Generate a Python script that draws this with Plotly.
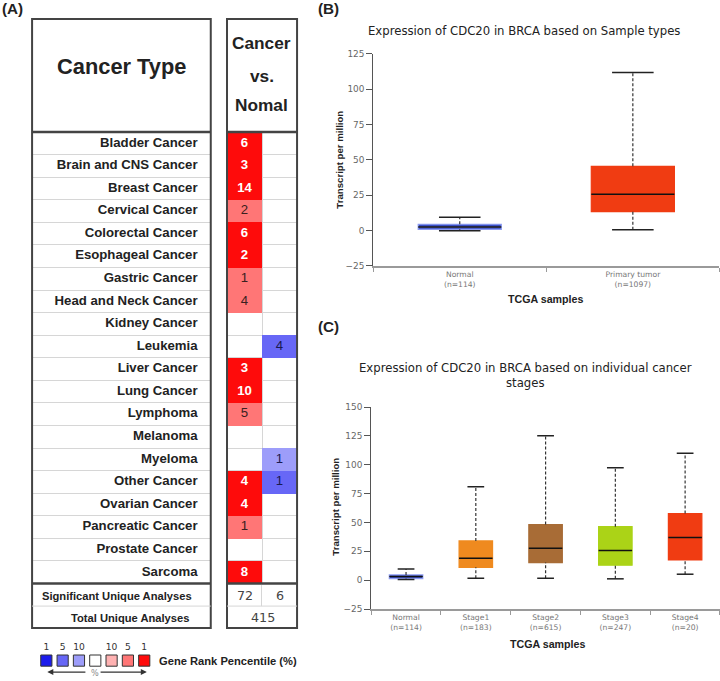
import plotly.graph_objects as go

W, H = 720, 681

# ---------------- Panel A data ----------------
cancer_types = ["Bladder Cancer", "Brain and CNS Cancer", "Breast Cancer", "Cervical Cancer",
                "Colorectal Cancer", "Esophageal Cancer", "Gastric Cancer", "Head and Neck Cancer",
                "Kidney Cancer", "Leukemia", "Liver Cancer", "Lung Cancer", "Lymphoma", "Melanoma",
                "Myeloma", "Other Cancer", "Ovarian Cancer", "Pancreatic Cancer", "Prostate Cancer",
                "Sarcoma"]
up_counts = [6, 3, 14, 2, 6, 2, 1, 4, None, None, 3, 10, 5, None, None, 4, 4, 1, None, 8]
up_rank = [1, 1, 1, 5, 1, 1, 5, 5, None, None, 1, 1, 5, None, None, 1, 1, 5, None, 1]
down_counts = [None, None, None, None, None, None, None, None, None, 4, None, None, None, None,
               1, 1, None, None, None, None]
down_rank = [None, None, None, None, None, None, None, None, None, 5, None, None, None, None,
             10, 5, None, None, None, None]
sig_up, sig_down, total_analyses = 72, 6, 415
legend_ranks = ["1", "5", "10", "", "10", "5", "1"]
palette = ["#1c1cec", "#6767f6", "#9d9dfa", "#ffffff", "#ffb2b2", "#ff7676", "#fe0b0b"]

# ---------------- Panel B data ----------------
b_groups = ["Normal", "Primary tumor"]
b_n = [114, 1097]
b_lower = [0.0, 0.7]
b_q1 = [0.9, 13.4]
b_med = [2.5, 25.7]
b_q3 = [4.5, 45.5]
b_upper = [9.5, 111.8]
b_colors = ["#3a4fc4", "#f03c12"]
b_lines = ["#8c9cf2", "#f03c12"]

# ---------------- Panel C data ----------------
c_groups = ["Normal", "Stage1", "Stage2", "Stage3", "Stage4"]
c_n = [114, 183, 615, 247, 20]
c_lower = [0.6, 1.7, 1.7, 1.2, 5.2]
c_q1 = [1.4, 11.2, 15.3, 13.0, 17.6]
c_med = [3.2, 19.0, 27.7, 25.7, 36.9]
c_q3 = [4.6, 34.0, 48.2, 46.4, 57.7]
c_upper = [9.8, 81.0, 125.2, 97.5, 110.0]
c_colors = ["#3a4fc4", "#ef8a1f", "#a86c36", "#abd317", "#f03c12"]
c_lines = ["#8c9cf2", "#ef8a1f", "#a86c36", "#abd317", "#f03c12"]

K = 1.0 / 0.985  # slight spread of the layout about the page centre


def px(xp):
    v = (W / 2 + (xp - W / 2) * K) / W
    return min(max(v, 0.0), 1.0)


def py(yp):
    v = 1 - (H / 2 + (yp - H / 2) * K) / H
    return min(max(v, 0.0), 1.0)


def fs(s):
    return round(s * K, 2)


AF = "Liberation Sans"
BF = "DejaVu Sans"

fig = go.Figure()

# ---------- heatmap ----------
level = {1: 3, 5: 2, 10: 1}
z = []
for u, d in zip(up_rank, down_rank):
    row = [level[u] if u else None, -level[d] if d else None]
    z.append(row)
n = len(palette)
cs = []
for k, c in enumerate(palette):
    cs.append([k / n, c])
    cs.append([(k + 1) / n, c])
fig.add_trace(go.Heatmap(z=z, x=[0, 1], y=cancer_types, colorscale=cs, zmin=-3.5, zmax=3.5,
                         showscale=False, hoverinfo="skip", xaxis="x", yaxis="y"))

tx, ty, tt, tc = [], [], [], []
for i, name in enumerate(cancer_types):
    if up_counts[i] is not None:
        tx.append(0); ty.append(name)
        strong = up_rank[i] == 1
        tt.append(f"<b>{up_counts[i]}</b>" if strong else str(up_counts[i]))
        tc.append("#ffffff" if strong else "#3a2020")
    if down_counts[i] is not None:
        tx.append(1); ty.append(name)
        tt.append(str(down_counts[i])); tc.append("#1a1a50")
fig.add_trace(go.Scatter(x=tx, y=ty, mode="text", text=tt, textposition="middle center",
                         textfont=dict(family=AF, size=fs(13), color=tc), hoverinfo="skip",
                         showlegend=False, xaxis="x", yaxis="y"))

# row labels
fig.add_trace(go.Scatter(x=[0.926] * len(cancer_types), y=cancer_types, mode="text",
                         text=cancer_types, textposition="middle left",
                         textfont=dict(family=AF, size=fs(13), color="#222", weight="bold"),
                         hoverinfo="skip", showlegend=False, xaxis="x2", yaxis="y"))

grid_c = "#d6d6d6"
fig.update_layout(
    xaxis=dict(domain=[px(229), px(298)], range=[-0.5, 1.5], tickvals=[0.5], showgrid=True,
               gridcolor=grid_c, showticklabels=False, ticks="", zeroline=False, showline=False,
               anchor="y"),
    xaxis2=dict(domain=[px(37), px(213)], range=[0, 1], visible=False, anchor="y"),
    yaxis=dict(domain=[py(583.5), py(132)], type="category", categoryorder="array",
               categoryarray=cancer_types, range=[len(cancer_types) - 0.5, -0.5],
               tickson="boundaries", showgrid=True, gridcolor=grid_c, showticklabels=False,
               ticks="", zeroline=False, showline=False, anchor="x"),
)


# ---------- box panels ----------
def box_panel(groups, ns, lower, q1, med, q3, upper, colors, lines, xa, ya):
    for i in range(len(groups)):
        fig.add_trace(go.Box(x=[i], q1=[q1[i]], median=[med[i]], q3=[q3[i]],
                             lowerfence=[q1[i]], upperfence=[q3[i]], width=0.48,
                             fillcolor=colors[i], line=dict(color=lines[i], width=1.2),
                             boxpoints=False, hoverinfo="skip", showlegend=False,
                             xaxis=xa, yaxis=ya))
        fig.add_trace(go.Scatter(x=[i, i, None, i, i], y=[q3[i], upper[i], None, lower[i], q1[i]],
                                 mode="lines", line=dict(color="#333", width=1.2, dash="3px,2px"),
                                 hoverinfo="skip", showlegend=False, xaxis=xa, yaxis=ya))
        fig.add_trace(go.Scatter(x=[i - 0.12, i + 0.12, None, i - 0.12, i + 0.12],
                                 y=[upper[i], upper[i], None, lower[i], lower[i]],
                                 mode="lines", line=dict(color="#222", width=1.5),
                                 hoverinfo="skip", showlegend=False, xaxis=xa, yaxis=ya))
        fig.add_trace(go.Scatter(x=[i - 0.24, i + 0.24], y=[med[i], med[i]], mode="lines",
                                 line=dict(color="#111", width=1.5), hoverinfo="skip",
                                 showlegend=False, xaxis=xa, yaxis=ya))


box_panel(b_groups, b_n, b_lower, b_q1, b_med, b_q3, b_upper, b_colors, b_lines, "x3", "y3")
box_panel(c_groups, c_n, c_lower, c_q1, c_med, c_q3, c_upper, c_colors, c_lines, "x4", "y4")


def xax(domain, groups, ns, anchor):
    k = len(groups)
    return dict(domain=domain, range=[-0.5, k - 0.5], tickvals=list(range(k)),
                ticktext=[f"{g}<br>(n={m})" for g, m in zip(groups, ns)], ticks="",
                tickfont=dict(family=BF, size=fs(7.5), color="#777"), showline=True,
                linecolor="#9a9a9a", linewidth=1.5, showgrid=False, zeroline=False,
                minor=dict(tickvals=[j - 0.5 for j in range(k + 1)], ticks="outside",
                           ticklen=4, tickcolor="#9a9a9a", tickwidth=1, showgrid=False),
                anchor=anchor)


def yax(domain, rng, anchor):
    return dict(domain=domain, range=rng, tickvals=list(range(rng[0], rng[1] + 1, 25)),
                ticks="outside", ticklen=6, tickcolor="#555", showline=True, linecolor="#555",
                linewidth=1, showgrid=False, zeroline=False,
                tickfont=dict(family=BF, size=fs(8.8), color="#666"), anchor=anchor)


fig.update_layout(
    xaxis3=xax([px(373), px(714)], b_groups, b_n, "y3"),
    yaxis3=yax([py(266), py(54)], [-25, 125], "x3"),
    xaxis4=xax([px(371), px(718)], c_groups, c_n, "y4"),
    yaxis4=yax([py(609), py(407)], [-25, 150], "x4"),
)

# ---------- legend ----------
fig.add_trace(go.Scatter(x=list(range(len(palette))), y=[0] * len(palette), mode="markers+text",
                         marker=dict(symbol="square", size=fs(11), color=palette,
                                     line=dict(color="#333", width=1)),
                         text=legend_ranks, textposition="top center", cliponaxis=False,
                         textfont=dict(family=BF, size=fs(9), color="#333"),
                         hoverinfo="skip", showlegend=False, xaxis="x5", yaxis="y5"))
fig.update_layout(
    xaxis5=dict(domain=[px(43), px(155.5)], range=[-0.5, 6.5], visible=False, anchor="y5"),
    yaxis5=dict(domain=[py(675), py(646)], range=[-1, 1], visible=False, anchor="x5"),
)

# ---------- shapes ----------
dark = "#444"
shapes = []
for x0, x1 in [(37, 213), (229, 298)]:
    shapes.append(dict(type="rect", xref="paper", yref="paper", x0=px(x0), x1=px(x1),
                       y0=py(628), y1=py(19), line=dict(color=dark, width=2)))
    shapes.append(dict(type="line", xref="paper", yref="paper", x0=px(x0), x1=px(x1),
                       y0=py(132), y1=py(132), line=dict(color=dark, width=2.5)))
    shapes.append(dict(type="line", xref="paper", yref="paper", x0=px(x0), x1=px(x1),
                       y0=py(583.5), y1=py(583.5), line=dict(color=dark, width=2.5)))
    shapes.append(dict(type="line", xref="paper", yref="paper", x0=px(x0), x1=px(x1),
                       y0=py(606), y1=py(606), line=dict(color=grid_c, width=1)))
shapes.append(dict(type="line", xref="paper", yref="paper", x0=px(263), x1=px(263),
                   y0=py(606), y1=py(585), line=dict(color=grid_c, width=1)))
fig.update_layout(shapes=shapes)

# ---------- annotations ----------
ann = []


def text(x, y, s, size, family=AF, color="#222", bold=False, xanchor="center", angle=0):
    ann.append(dict(x=px(x), y=py(y), xref="paper", yref="paper", text=s, showarrow=False,
                    xanchor=xanchor, yanchor="middle", textangle=angle,
                    font=dict(family=family, size=fs(size), color=color,
                              weight="bold" if bold else "normal")))


text(1, 9, "(A)", 15, bold=True, xanchor="left")
text(317, 9, "(B)", 15, bold=True, xanchor="left")
text(317, 327, "(C)", 15, bold=True, xanchor="left")
text(125, 67, "Cancer Type", 21.5, bold=True)
text(263, 43, "Cancer", 17, bold=True)
text(263, 76, "vs.", 17, bold=True)
text(263, 105, "Nomal", 17, bold=True)
text(196, 595.5, "Significant Unique Analyses", 11, bold=True, xanchor="right")
text(194, 617.5, "Total Unique Analyses", 11, bold=True, xanchor="right")
text(247, 595.5, str(sig_up), 12.5, family=BF, color="#444")
text(281, 595.5, str(sig_down), 12.5, family=BF, color="#444")
text(264, 617.5, str(total_analyses), 12.5, family=BF, color="#444")
text(160, 661, "Gene Rank Pencentile (%)", 11, bold=True, xanchor="left")
text(99, 673, "%", 8, family=BF, color="#888")
for head, tail in [(52, 91), (150, 103)]:
    ann.append(dict(x=px(head), y=py(672), ax=(tail - head) * K, ay=0, xref="paper",
                    yref="paper", axref="pixel", ayref="pixel", text="", showarrow=True,
                    arrowhead=2, arrowsize=1, arrowwidth=1.2, arrowcolor="#333"))

text(522, 31, "Expression of CDC20 in BRCA based on Sample types", 11.5, family=BF, color="#222")
text(523, 375.5, "Expression of CDC20 in BRCA based on individual cancer<br>stages", 11.5,
     family=BF, color="#222")
text(340, 160, "Transcript per million", 9.5, bold=True, angle=-90)
text(335, 507, "Transcript per million", 9.5, bold=True, angle=-90)
text(543, 299, "TCGA samples", 10.5, bold=True)
text(545, 644, "TCGA samples", 10.5, bold=True)
fig.update_layout(annotations=ann)

fig.update_layout(width=W, height=H, margin=dict(l=0, r=0, t=0, b=0), paper_bgcolor="white",
                  plot_bgcolor="white", showlegend=False)

page_fix = "document.body.style.margin='0';document.body.style.overflow='hidden';"
fig.write_html("out.html", config={"displayModeBar": False}, post_script=page_fix)
